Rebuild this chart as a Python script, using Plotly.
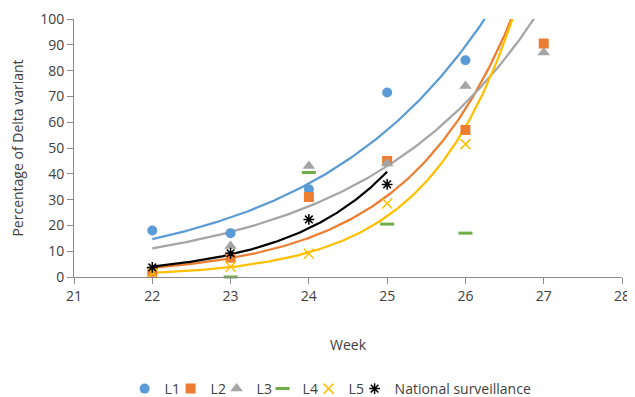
import numpy as np
import plotly.graph_objects as go

# ---- data ----
weeks = [22, 23, 24, 25, 26, 27]
L1 = [18, 17, 34, 71.5, 84, None]
L2 = [2, 7.5, 31, 45, 57, 90.5]
L3 = [None, 12, 43, 44, 74, 87]
L4 = [None, 0, 40.5, 20.5, 17, None]
L5 = [1.5, 4, 9, 28.5, 51.5, None]
national_weeks = [22, 23, 24, 25]
national = [3.7, 9.2, 22.3, 35.9]

x_ticks = [21, 22, 23, 24, 25, 26, 27, 28]
y_ticks = [0, 10, 20, 30, 40, 50, 60, 70, 80, 90, 100]

FONT = "Open Sans"
TXT = "#404040"
AX = "#8c8c8c"

series = [
    dict(name="L1", x=weeks, y=L1, color="#5B9BD5", symbol="circle", size=10, trend=(22, 27), lw=1),
    dict(name="L2", x=weeks, y=L2, color="#ED7D31", symbol="square", size=10, trend=(22, 27), lw=1),
    dict(name="L3", x=weeks, y=L3, color="#A5A5A5", symbol="triangle-up", size=11, trend=(22, 27), lw=1),
    dict(name="L4", x=weeks, y=L4, color="#70AD47", symbol="line-ew-open", size=10, trend=None, lw=1),
    dict(name="L5", x=weeks, y=L5, color="#FFC000", symbol="x-thin-open", size=10, trend=(22, 27), lw=1),
    dict(name="National surveillance", x=national_weeks, y=national, color="#000000",
         symbol="asterisk-open", size=9, trend=(22, 25), lw=165),
]

fig = go.Figure()

# exponential trendlines (least squares on log values, like a spreadsheet trendline)
for s in series:
    if s["trend"] is None:
        continue
    xs = np.array([a for a, b in zip(s["x"], s["y"]) if b is not None and b > 0], float)
    ys = np.array([b for b in s["y"] if b is not None and b > 0], float)
    slope, icpt = np.polyfit(xs, np.log(ys), 1)
    xf = np.linspace(s["trend"][0], s["trend"][1], 200)
    yf = np.exp(icpt + slope * xf)
    fig.add_trace(go.Scatter(x=xf, y=yf, mode="lines", showlegend=False, hoverinfo="skip",
                             line=dict(color=s["color"], width=2.25)))

for s in series:
    mk = dict(color=s["color"], symbol=s["symbol"], size=s["size"])
    if s["symbol"].endswith("open"):
        mk["line"] = dict(color=s["color"], width=3 if s["name"] == "L4" else 1.5)
    fig.add_trace(go.Scatter(x=s["x"], y=s["y"], mode="markers", name=s["name"],
                             marker=mk, cliponaxis=False, legendwidth=s["lw"]))

# the page body adds an 8px offset, so margins are shifted by 8px to compensate
fig.update_layout(
    width=635, height=397,
    margin=dict(l=66, r=20.5, t=11, b=128),
    paper_bgcolor="white", plot_bgcolor="white",
    font=dict(family=FONT, size=14, color=TXT),
    showlegend=True,
    legend=dict(orientation="h", xref="container", yref="container",
                x=0.1836, xanchor="left", y=0.0403, yanchor="middle",
                itemwidth=30, borderwidth=0,
                font=dict(family=FONT, size=14, color=TXT), bgcolor="rgba(0,0,0,0)"),
)
fig.update_xaxes(range=[21, 28], tickvals=x_ticks, showgrid=False, zeroline=False,
                 automargin=False, ticklabeloverflow="allow",
                 showline=True, linecolor=AX, linewidth=1,
                 ticks="outside", ticklen=6, tickcolor=AX,
                 tickfont=dict(family=FONT, size=14, color=TXT),
                 title=dict(text="Week", standoff=36, font=dict(family=FONT, size=14, color=TXT)))
fig.update_yaxes(range=[0, 100], tickvals=y_ticks, showgrid=False, zeroline=False,
                 automargin=False,
                 showline=True, linecolor=AX, linewidth=1,
                 ticks="outside", ticklen=6, tickcolor=AX,
                 tickfont=dict(family=FONT, size=14, color=TXT),
                 title=dict(text="Percentage of Delta variant", standoff=15,
                            font=dict(family=FONT, size=14, color=TXT)))

fig.write_html("out.html")
